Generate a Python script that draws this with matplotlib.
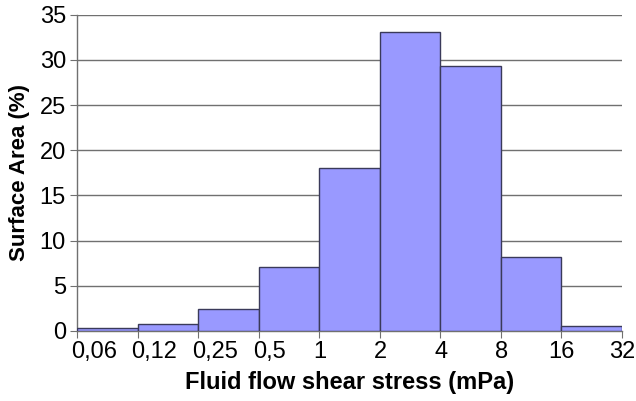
import numpy as np
import matplotlib.pyplot as plt
from matplotlib.transforms import ScaledTranslation

plt.rcParams['font.family'] = ['Liberation Sans', 'DejaVu Sans']

edges = ['0,06', '0,12', '0,25', '0,5', '1', '2', '4', '8', '16', '32']
area = [0.3, 0.8, 2.45, 7.1, 18.0, 33.05, 29.35, 8.2, 0.55]

fig = plt.figure(figsize=(6.36, 4.01), dpi=100)
ax = fig.add_axes([0.121, 0.175, 0.857, 0.788])

pos = np.arange(len(area))
ax.bar(pos, area, width=1, align='edge', color='#9999ff',
       edgecolor='#3a3a5a', linewidth=1.0, zorder=3)

ax.set_xlim(0, len(area))
ax.set_ylim(0, 35)
ax.set_yticks(np.arange(0, 36, 5))
ax.set_xticks(np.arange(len(edges)))
ax.set_xticklabels(edges)
ax.yaxis.grid(True, color='#707070', linewidth=1.0, zorder=0)
ax.set_axisbelow(True)

for s in ['top', 'right']:
    ax.spines[s].set_visible(False)
for s in ['left', 'bottom']:
    ax.spines[s].set_color('#707070')
    ax.spines[s].set_linewidth(1.0)

ax.tick_params(axis='both', labelsize=17, color='#707070', length=5)
ax.tick_params(axis='y', pad=3)
ax.tick_params(axis='x', pad=2)

# the short labels sit just right of their tick, as in the original
for lab in ax.get_xticklabels()[:8]:
    lab.set_ha('left')
    lab.set_transform(lab.get_transform() + ScaledTranslation(-0.06, 0, fig.dpi_scale_trans))

ax.set_xlabel('Fluid flow shear stress (mPa)', fontsize=17, fontweight='bold', labelpad=6)
ax.set_ylabel('Surface Area (%)', fontsize=16, fontweight='bold', labelpad=7)

fig.savefig('out.png', dpi=100)
